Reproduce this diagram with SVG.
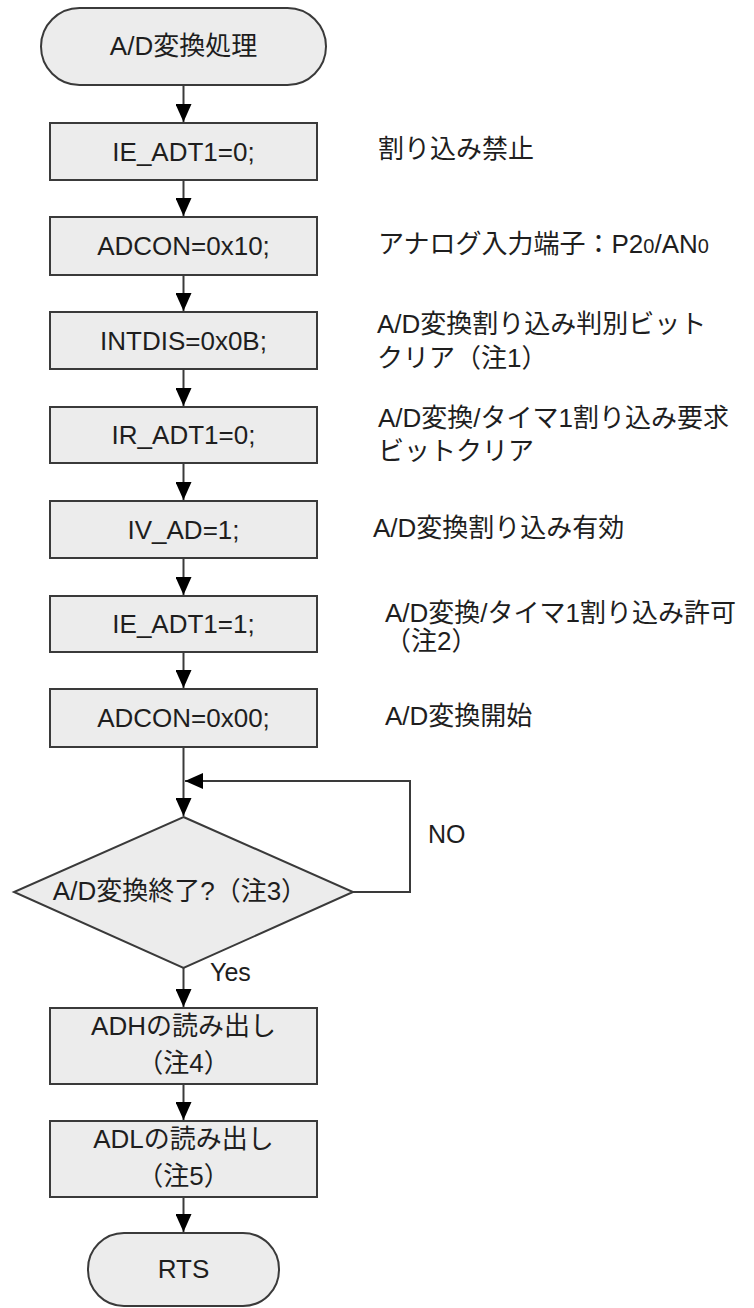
<svg xmlns="http://www.w3.org/2000/svg" width="754" height="1308" viewBox="0 0 754 1308">
<style>
  text { font-family: "Liberation Sans", "Noto Sans CJK JP", sans-serif; fill: #1e1e1e; }
  .box { fill: #ececec; stroke: #3a3a3a; stroke-width: 2; }
  .t { font-size: 26px; text-anchor: middle; }
  .lbl { font-size: 26px; }
  .con { fill: none; stroke: #3a3a3a; stroke-width: 2; }
  .small { font-size: 20px; }
</style>
<defs>
  <marker id="arr" markerWidth="18" markerHeight="16" refX="18" refY="8" orient="auto" markerUnits="userSpaceOnUse" viewBox="0 0 18 16">
    <path d="M0,0 L18,8 L0,16 Z" fill="#000"/>
  </marker>
</defs>
<rect width="754" height="1308" fill="#ffffff"/>

<g id="connectors">
  <path class="con" d="M183.5,85 V122" marker-end="url(#arr)"/>
  <path class="con" d="M183.5,180 V216" marker-end="url(#arr)"/>
  <path class="con" d="M183.5,275 V311" marker-end="url(#arr)"/>
  <path class="con" d="M183.5,369 V406" marker-end="url(#arr)"/>
  <path class="con" d="M183.5,463 V500" marker-end="url(#arr)"/>
  <path class="con" d="M183.5,558 V595" marker-end="url(#arr)"/>
  <path class="con" d="M183.5,652 V688" marker-end="url(#arr)"/>
  <path class="con" d="M183.5,747 V816" marker-end="url(#arr)"/>
  <path class="con" d="M353,892 H410 V781 H185" marker-end="url(#arr)"/>
  <path class="con" d="M183.5,968 V1007" marker-end="url(#arr)"/>
  <path class="con" d="M183.5,1084 V1120" marker-end="url(#arr)"/>
  <path class="con" d="M183.5,1197 V1232" marker-end="url(#arr)"/>
  <text x="428" y="843" style="font-size:25px">NO</text>
  <text x="210" y="981" style="font-size:25px">Yes</text>
</g>

<g id="start">
  <rect class="box" x="41" y="8" width="285" height="77" rx="38.5" ry="38.5"/>
  <text class="t" x="183.5" y="55">A/D変換処理</text>
</g>
<g id="ie_adt1_0">
  <rect class="box" x="50" y="123" width="267" height="57"/>
  <text class="t" x="183.5" y="161">IE_ADT1=0;</text>
</g>
<g id="adcon_10">
  <rect class="box" x="50" y="217" width="267" height="58"/>
  <text class="t" x="183.5" y="255">ADCON=0x10;</text>
</g>
<g id="intdis">
  <rect class="box" x="50" y="312" width="267" height="57"/>
  <text class="t" x="183.5" y="350">INTDIS=0x0B;</text>
</g>
<g id="ir_adt1">
  <rect class="box" x="50" y="407" width="267" height="56"/>
  <text class="t" x="183.5" y="444">IR_ADT1=0;</text>
</g>
<g id="iv_ad">
  <rect class="box" x="50" y="501" width="267" height="57"/>
  <text class="t" x="183.5" y="539">IV_AD=1;</text>
</g>
<g id="ie_adt1_1">
  <rect class="box" x="50" y="596" width="267" height="56"/>
  <text class="t" x="183.5" y="633">IE_ADT1=1;</text>
</g>
<g id="adcon_00">
  <rect class="box" x="50" y="689" width="267" height="58"/>
  <text class="t" x="183.5" y="727">ADCON=0x00;</text>
</g>
<g id="decision">
  <polygon class="box" points="183.5,817 353,892 183.5,968 14,892"/>
  <text class="t" x="180" y="900">A/D変換終了?（注3）</text>
</g>
<g id="read_adh">
  <rect class="box" x="50" y="1008" width="267" height="76"/>
  <text class="t" x="183.5" y="1035">ADHの読み出し</text>
  <text class="t" x="183.5" y="1072">（注4）</text>
</g>
<g id="read_adl">
  <rect class="box" x="50" y="1121" width="267" height="76"/>
  <text class="t" x="183.5" y="1148">ADLの読み出し</text>
  <text class="t" x="183.5" y="1185">（注5）</text>
</g>
<g id="rts">
  <rect class="box" x="88" y="1233" width="191" height="73" rx="36" ry="36"/>
  <text class="t" x="183.5" y="1278">RTS</text>
</g>

<g id="labels">
  <text class="lbl" x="378" y="158">割り込み禁止</text>
  <text class="lbl" x="378" y="253">アナログ入力端子：P2<tspan class="small">0</tspan>/AN<tspan class="small">0</tspan></text>
  <text class="lbl" x="377" y="333">A/D変換割り込み判別ビット</text>
  <text class="lbl" x="377" y="367">クリア（注1）</text>
  <text class="lbl" x="378" y="427">A/D変換/タイマ1割り込み要求</text>
  <text class="lbl" x="378" y="460">ビットクリア</text>
  <text class="lbl" x="373" y="537">A/D変換割り込み有効</text>
  <text class="lbl" x="385" y="622">A/D変換/タイマ1割り込み許可</text>
  <text class="lbl" x="385" y="650">（注2）</text>
  <text class="lbl" x="385" y="725">A/D変換開始</text>
</g>
</svg>
